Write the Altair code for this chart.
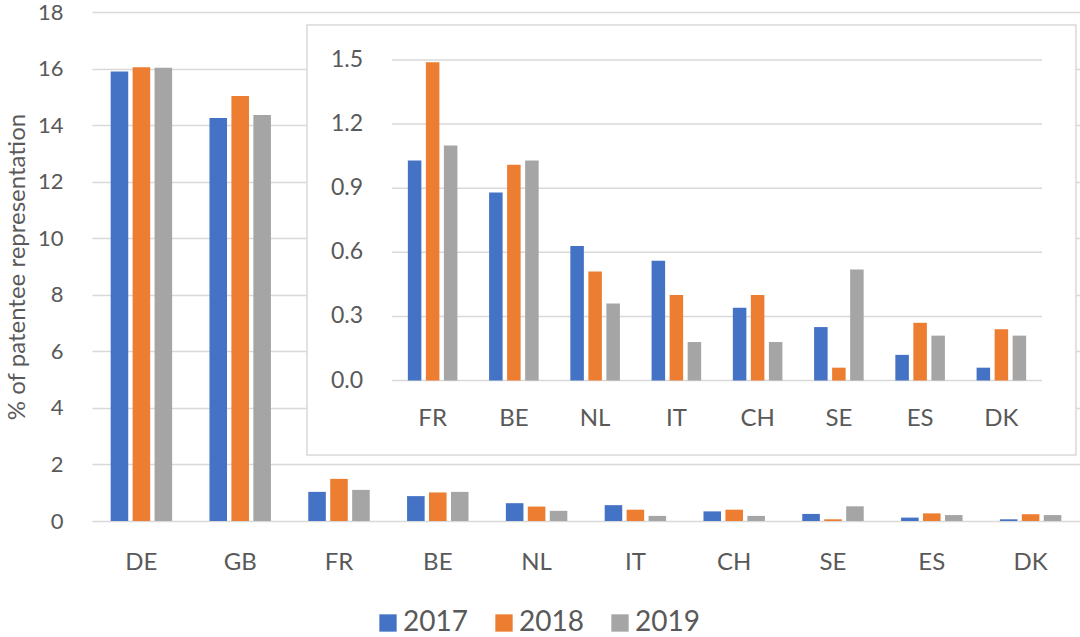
import altair as alt
import pandas as pd

countries = ["DE", "GB", "FR", "BE", "NL", "IT", "CH", "SE", "ES", "DK"]
years = ["2017", "2018", "2019"]
v2017 = [15.90, 14.25, 1.03, 0.88, 0.63, 0.56, 0.34, 0.25, 0.12, 0.06]
v2018 = [16.05, 15.03, 1.49, 1.01, 0.51, 0.40, 0.40, 0.06, 0.27, 0.24]
v2019 = [16.03, 14.36, 1.10, 1.03, 0.36, 0.18, 0.18, 0.52, 0.21, 0.21]
inset_countries = countries[2:]
main_ticks = [0, 2, 4, 6, 8, 10, 12, 14, 16, 18]
inset_ticks = [0.0, 0.3, 0.6, 0.9, 1.2, 1.5]

rows = []
for i, c in enumerate(countries):
    for yr, vals in zip(years, [v2017, v2018, v2019]):
        rows.append({"country": c, "year": yr, "value": vals[i]})
df = pd.DataFrame(rows)
df_inset = df[df["country"].isin(inset_countries)]

FONT = "Lato"
TXT = "#595959"
GRID = "#D9D9D9"
colors = ["#4472C4", "#ED7D31", "#A5A5A5"]

color = alt.Color(
    "year:N",
    scale=alt.Scale(domain=years, range=colors),
    legend=alt.Legend(
        title=None, orient="none", legendX=282, legendY=597,
        direction="horizontal", symbolType="square", symbolSize=300,
        symbolStrokeWidth=0, labelFontSize=28, labelFont=FONT,
        labelColor=TXT, labelOffset=1, columnPadding=22, padding=0,
    ),
)

main = alt.Chart(df).mark_bar().encode(
    x=alt.X(
        "country:N", sort=countries,
        scale=alt.Scale(paddingInner=0.378, paddingOuter=0.189),
        axis=alt.Axis(title=None, domain=False, ticks=False, grid=False,
                      labelPadding=29, labelFontSize=24, labelFont=FONT,
                      labelColor=TXT, labelAngle=0),
    ),
    xOffset=alt.XOffset("year:N", sort=years,
                        scale=alt.Scale(paddingInner=0.2, paddingOuter=0)),
    y=alt.Y(
        "value:Q", scale=alt.Scale(domain=[0, 18], nice=False),
        axis=alt.Axis(values=main_ticks, title="% of patentee representation",
                      titleFontSize=24, titleFont=FONT, titleColor=TXT,
                      titleFontWeight="normal", titlePadding=8,
                      grid=True, gridColor=GRID, gridWidth=1.5,
                      domain=False, ticks=False, labelPadding=29,
                      labelFontSize=22, labelFont=FONT, labelColor=TXT),
    ),
    color=color,
)

box = alt.Chart(pd.DataFrame({"k": [0]})).mark_rect(
    fill="white", stroke=GRID, strokeWidth=1.5
).encode(x=alt.value(215), x2=alt.value(984), y=alt.value(13), y2=alt.value(443))

inset_yscale = alt.Scale(domain=[0, 1.5], range=[368.5, 48], nice=False)
tick_df = pd.DataFrame({"v": inset_ticks})

inset_grid = alt.Chart(tick_df).mark_rule(
    color=GRID, strokeWidth=1.5
).encode(
    y=alt.Y("v:Q", scale=inset_yscale, axis=None),
    x=alt.value(300), x2=alt.value(950),
)

inset_labels = alt.Chart(tick_df).mark_text(
    align="right", baseline="middle", font=FONT, fontSize=23, color=TXT
).encode(
    y=alt.Y("v:Q", scale=inset_yscale, axis=None),
    x=alt.value(271),
    text=alt.Text("v:Q", format=".1f"),
)

inset_bars = alt.Chart(df_inset).mark_bar().encode(
    x=alt.X(
        "country:N", sort=inset_countries,
        scale=alt.Scale(domain=inset_countries, range=[300, 950],
                        paddingInner=0.39, paddingOuter=0.195),
        axis=alt.Axis(orient="bottom", offset=-140.5, title=None, domain=False,
                      ticks=False, grid=False, labelPadding=26, labelFontSize=24,
                      labelFont=FONT, labelColor=TXT, labelAngle=0, zindex=1),
    ),
    xOffset=alt.XOffset("year:N", sort=years,
                        scale=alt.Scale(paddingInner=0.25, paddingOuter=0)),
    y=alt.Y("value:Q", scale=inset_yscale, axis=None),
    color=color,
)

inset = alt.layer(inset_grid, inset_labels, inset_bars)

chart = (
    alt.layer(main, box, inset)
    .resolve_scale(x="independent", y="independent", xOffset="independent")
    .resolve_axis(x="independent", y="independent")
    .properties(
        width=988, height=509,
        autosize=alt.AutoSizeParams(type="none"),
        padding={"left": 92, "top": 12, "right": 0, "bottom": 116},
        background="white",
    )
    .configure_view(stroke=None)
)

chart.save("out.html", embed_options={"renderer": "svg", "actions": False})
